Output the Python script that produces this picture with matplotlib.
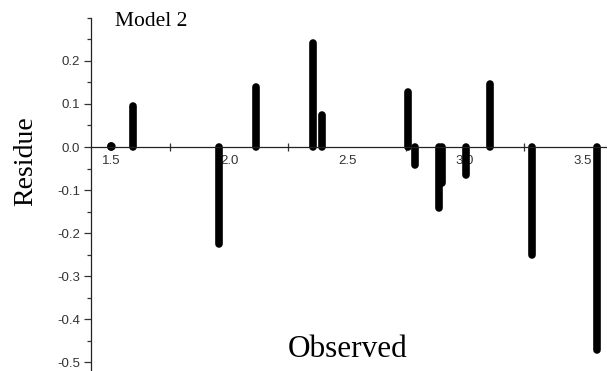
import matplotlib
matplotlib.use("Agg")
import matplotlib.pyplot as plt
from matplotlib.ticker import MultipleLocator

observed = [1.50, 1.592, 1.959, 2.114, 2.357, 2.393, 2.757, 2.788, 2.890, 2.901, 3.003, 3.106, 3.285, 3.558]
residue = [0.003, 0.095, -0.225, 0.139, 0.242, 0.074, 0.128, -0.042, -0.142, -0.084, -0.065, 0.146, -0.250, -0.471]
x_ticks = [1.5, 2.0, 2.5, 3.0, 3.5]
x_tick_labels = ["1.5", "2.0", "2.5", "3.0", "3.5"]
y_ticks = [-0.5, -0.4, -0.3, -0.2, -0.1, 0.0, 0.1, 0.2]
y_tick_labels = ["-0.5", "-0.4", "-0.3", "-0.2", "-0.1", "0.0", "0.1", "0.2"]

fig = plt.figure(figsize=(6.07, 3.71), dpi=100)
ax = fig.add_axes([0.15, 0.0, 0.85, 0.952])

ax.vlines(observed, 0, residue, colors="black", linewidth=5.5, capstyle="round")
ax.plot([observed[0]], [residue[0]], "o", color="black", markersize=5)

ax.set_xlim(1.415, 3.602)
ax.set_ylim(-0.52, 0.30)

for s in ["top", "right"]:
    ax.spines[s].set_visible(False)
ax.spines["bottom"].set_position(("data", 0))
ax.spines["bottom"].set_linewidth(0.9)
ax.spines["left"].set_linewidth(0.9)
ax.spines["bottom"].set_color("#222222")
ax.spines["left"].set_color("#222222")

ax.set_xticks(x_ticks)
ax.set_xticklabels(x_tick_labels, fontfamily="Liberation Sans", fontsize=9.5, color="#333333")
ax.xaxis.set_minor_locator(MultipleLocator(0.25))
ax.tick_params(axis="x", which="major", length=0, pad=6)
ax.tick_params(axis="x", which="minor", direction="inout", length=6, width=0.9, color="#333333")

ax.set_yticks(y_ticks)
ax.set_yticklabels(y_tick_labels, fontfamily="Liberation Sans", fontsize=9.5, color="#333333")
ax.yaxis.set_minor_locator(MultipleLocator(0.05))
ax.tick_params(axis="y", which="major", direction="out", length=5, width=0.9, pad=3, color="#333333")
ax.tick_params(axis="y", which="minor", direction="out", length=3, width=0.9, color="#333333")

fig.text(0.022, 0.565, "Residue", rotation=90, fontfamily="Liberation Serif",
         fontsize=20, ha="left", va="center")
fig.text(0.5725, 0.058, "Observed", fontfamily="Liberation Serif",
         fontsize=22.5, ha="center", va="center")
fig.text(0.19, 0.942, "Model 2", fontfamily="Liberation Serif",
         fontsize=15.5, ha="left", va="center")

fig.savefig("out.png", dpi=100)
